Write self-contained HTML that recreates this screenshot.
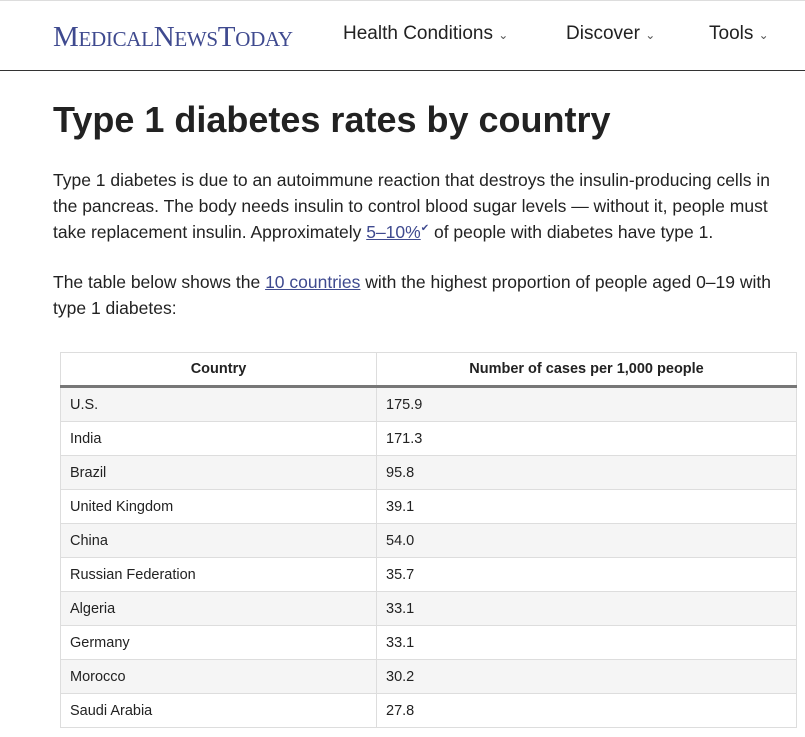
<!DOCTYPE html>
<html><head><style>
body{margin:0;width:805px;height:737px;overflow:hidden;background:#fff;font-family:"Liberation Sans",sans-serif;color:#222;}
.top{position:absolute;left:0;top:0;width:805px;height:1px;background:#ddd}
.nav{position:absolute;left:0;top:0;width:805px;height:70px;border-bottom:1.5px solid #333}
.logo{position:absolute;left:53px;top:21px;font-family:"Liberation Serif",serif;color:#3f4a8f;font-size:29px;letter-spacing:-0.3px}
.logo small{font-size:21px}
.nl{position:absolute;top:23px;font-size:19px;color:#222}
.nl span{font-size:12px;color:#555}
h1{position:absolute;left:53px;top:99px;margin:0;font-size:36px;font-weight:bold;color:#222}
p{position:absolute;left:53px;width:760px;margin:0;font-size:17.5px;line-height:26px;color:#222;white-space:nowrap}
sup{line-height:0;color:#3f4a8f;font-size:10px}
a{color:#3f4a8f;text-decoration:underline}
table{position:absolute;left:60px;top:352px;width:737px;border-collapse:collapse;font-size:14.5px;border:1px solid #ddd}
th{height:30px;font-weight:bold;border-bottom:3px solid #777;border-right:1px solid #ddd;font-size:14.5px}
td{height:33px;padding:0 0 0 9px;border-top:1px solid #ddd;border-right:1px solid #ddd}
tr:nth-child(even) td{background:#f5f5f5}
td:first-child,th:first-child{width:306px}
</style></head><body>
<div class="nav"></div><div class="top"></div>
<div class="logo">M<small>EDICAL</small>N<small>EWS</small>T<small>ODAY</small></div>
<div class="nl" style="left:343px">Health Conditions <span>&#8964;</span></div>
<div class="nl" style="left:566px">Discover <span>&#8964;</span></div>
<div class="nl" style="left:709px">Tools <span>&#8964;</span></div>
<h1>Type 1 diabetes rates by country</h1>
<p style="top:167px">Type 1 diabetes is due to an autoimmune reaction that destroys the insulin-producing cells in<br>the pancreas. The body needs insulin to control blood sugar levels — without it, people must<br>take replacement insulin. Approximately <a>5–10%</a><sup>&#10004;</sup> of people with diabetes have type 1.</p>
<p style="top:269px">The table below shows the <a>10 countries</a> with the highest proportion of people aged 0–19 with<br>type 1 diabetes:</p>
<table>
<tr><th>Country</th><th>Number of cases per 1,000 people</th></tr>
<tr><td>U.S.</td><td>175.9</td></tr>
<tr><td>India</td><td>171.3</td></tr>
<tr><td>Brazil</td><td>95.8</td></tr>
<tr><td>United Kingdom</td><td>39.1</td></tr>
<tr><td>China</td><td>54.0</td></tr>
<tr><td>Russian Federation</td><td>35.7</td></tr>
<tr><td>Algeria</td><td>33.1</td></tr>
<tr><td>Germany</td><td>33.1</td></tr>
<tr><td>Morocco</td><td>30.2</td></tr>
<tr><td>Saudi Arabia</td><td>27.8</td></tr>
</table>
</body></html>
